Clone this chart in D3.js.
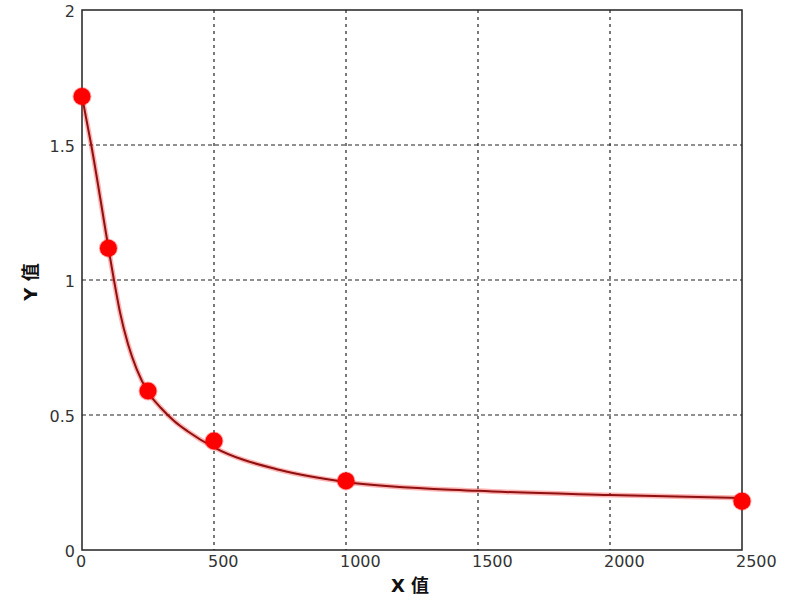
<!DOCTYPE html>
<html>
<head>
<meta charset="utf-8">
<script src="https://cdn.jsdelivr.net/npm/d3@7"></script>
<style>
  html, body { margin: 0; padding: 0; background: #fff; }
  svg { display: block; }
</style>
</head>
<body>
<svg id="chart" width="800" height="600"></svg>
<script>
// ---- data ----
const pointX = [0, 100, 250, 500, 1000, 2500];
const pointY = [1.68, 1.118, 0.589, 0.404, 0.256, 0.181];
// fitted curve
const curveX = [0, 35, 100, 121, 144, 175, 207, 250, 300, 350, 400, 500, 750, 1000, 1500, 2000, 2500];
const curveY = [1.68, 1.5, 1.12, 1.0, 0.88, 0.76, 0.67, 0.585, 0.525, 0.477, 0.44, 0.38, 0.296, 0.252, 0.219, 0.204, 0.193];
const xTicks = [0, 500, 1000, 1500, 2000, 2500];
const yTicks = [0, 0.5, 1, 1.5, 2];
const yTickLabels = ["0", "0.5", "1", "1.5", "2"];
const xTitle = "X 值";
const yTitle = "Y 值";

// ---- layout ----
const L = 82, R = 742, T = 10, B = 550;
const svg = d3.select("#chart");
const x = d3.scaleLinear().domain([0, 2500]).range([L, R]);
const y = d3.scaleLinear().domain([0, 2]).range([B, T]);

// grid
svg.append("g").selectAll("line").data(xTicks.slice(1, -1)).join("line")
  .attr("x1", d => x(d)).attr("x2", d => x(d)).attr("y1", T).attr("y2", B)
  .attr("stroke", "#222").attr("stroke-width", 1.2).attr("stroke-dasharray", "3,4");
svg.append("g").selectAll("line").data(yTicks.slice(1, -1)).join("line")
  .attr("x1", L).attr("x2", R).attr("y1", d => y(d)).attr("y2", d => y(d))
  .attr("stroke", "#222").attr("stroke-width", 1.2).attr("stroke-dasharray", "4,3");

// frame
svg.append("rect").attr("x", L).attr("y", T).attr("width", R - L).attr("height", B - T)
  .attr("fill", "none").attr("stroke", "#222").attr("stroke-width", 1.5);

// tick labels
const tickFont = "'DejaVu Sans', sans-serif";
svg.append("g").selectAll("text").data(xTicks).join("text")
  .attr("x", d => x(d) - 6).attr("y", 567)
  .attr("text-anchor", "start")
  .attr("font-family", tickFont).attr("font-size", 16).attr("fill", "#333")
  .text(d => d);
svg.append("g").selectAll("text").data(yTicks).join("text")
  .attr("x", L - 7).attr("y", d => y(d) + 7)
  .attr("text-anchor", "end")
  .attr("font-family", tickFont).attr("font-size", 16).attr("fill", "#333")
  .text((d, i) => yTickLabels[i]);

// axis titles
const titleFont = "'DejaVu Sans', 'Noto Sans CJK SC', sans-serif";
svg.append("text").attr("x", 410).attr("y", 592).attr("text-anchor", "middle")
  .attr("font-family", titleFont).attr("font-size", 18).attr("font-weight", "bold")
  .attr("fill", "#111").text(xTitle);
svg.append("text").attr("transform", "translate(37,282) rotate(-90)").attr("text-anchor", "middle")
  .attr("font-family", titleFont).attr("font-size", 18).attr("font-weight", "bold")
  .attr("fill", "#111").text(yTitle);

// curve
const curveData = curveX.map((v, i) => [v, curveY[i]]);
const line = d3.line().x(d => x(d[0])).y(d => y(d[1])).curve(d3.curveMonotoneX);
svg.append("path").attr("d", line(curveData)).attr("fill", "none")
  .attr("stroke", "rgba(255,40,40,0.35)").attr("stroke-width", 5);
svg.append("path").attr("d", line(curveData)).attr("fill", "none")
  .attr("stroke", "#8e1010").attr("stroke-width", 2);

// points
const pts = pointX.map((v, i) => [v, pointY[i]]);
svg.append("g").selectAll("circle").data(pts).join("circle")
  .attr("cx", d => x(d[0])).attr("cy", d => y(d[1])).attr("r", 8.5)
  .attr("fill", "#f00").attr("stroke", "rgba(255,0,0,0.35)").attr("stroke-width", 2);
</script>
</body>
</html>
